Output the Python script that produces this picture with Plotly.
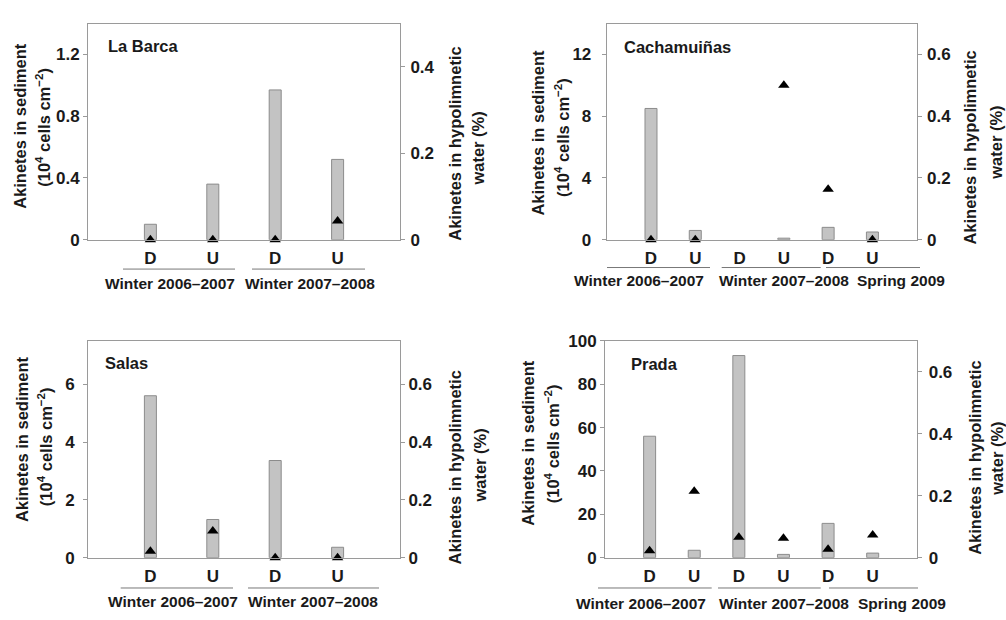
import plotly.graph_objects as go

W, H = 1006, 620

# ---------------- data ----------------
labarca_cats = ["D", "U", "D", "U"]
labarca_sediment = [0.10, 0.36, 0.97, 0.52]
labarca_water = [0.0, 0.0, 0.0, 0.043]

cacha_cats = ["D", "U", "D", "U", "D", "U"]
cacha_sediment = [8.5, 0.6, None, 0.1, 0.8, 0.5]
cacha_water = [0.0, 0.0, None, 0.50, 0.163, 0.0]

salas_cats = ["D", "U", "D", "U"]
salas_sediment = [5.6, 1.32, 3.36, 0.36]
salas_water = [0.022, 0.092, 0.0, 0.0]

prada_cats = ["D", "U", "D", "U", "D", "U"]
prada_sediment = [56.0, 3.4, 93.2, 1.5, 15.8, 2.1]
prada_water = [0.022, 0.214, 0.066, 0.063, 0.027, 0.073]

panels = [
    dict(name="La Barca", cats=labarca_cats, sed=labarca_sediment, wat=labarca_water,
         dom=(88, 400, 15, 238), yr=[0, 1.4], ydt=0.4, y2r=[0, 0.5],
         groups=["Winter 2006–2007", "Winter 2007–2008"]),
    dict(name="Cachamuiñas", cats=cacha_cats, sed=cacha_sediment, wat=cacha_water,
         dom=(606.7, 916.7, 15, 238), yr=[0, 14], ydt=4, y2r=[0, 0.7],
         groups=["Winter 2006–2007", "Winter 2007–2008", "Spring 2009"]),
    dict(name="Salas", cats=salas_cats, sed=salas_sediment, wat=salas_water,
         dom=(88, 400, 342.3, 566), yr=[0, 7.5], ydt=2, y2r=[0, 0.75],
         groups=["Winter 2006–2007", "Winter 2007–2008"]),
    dict(name="Prada", cats=prada_cats, sed=prada_sediment, wat=prada_water,
         dom=(605, 917.3, 342.3, 566), yr=[0, 100], ydt=20, y2r=[0, 0.7],
         groups=["Winter 2006–2007", "Winter 2007–2008", "Spring 2009"]),
]

# label / line placements in pixels (styling)
group_text_x = [[170, 310], [639, 783.5, 900.5], [173, 312.7], [640.5, 784, 901.7]]
group_text_y = [283, 280, 611.7, 613.3]
group_lines = [[(123, 235), (252, 365)],
               [(607, 710), (721.7, 820.7), (826, 920)],
               [(120.7, 233), (248, 379)],
               [(598, 711.7), (718, 820.7), (829, 918)]]
group_line_y = [268.3, 266.7, 597.3, 597.3]
name_pos = [(106, 38.3), (621.7, 38.7), (103.3, 365), (629.3, 366)]
left_title_x = [(20, 43), (538, 562), (22.7, 45), (528, 552)]
left_title_y = [(120.5, 122.5), (127.5, 133), (444, 452), (447.5, 449)]
right_title_x = [(455, 478), (970, 996), (455, 480), (975, 997)]
right_title_y = [(139, 144), (143, 138), (473, 471), (463, 464)]
left_standoff = [0, 7, 5, 0]
right_standoff = [2, 2, 0, 3]

FONT = "Arial, Liberation Sans, Helvetica, sans-serif"
TXT = "#1a1a1a"
GRID = "#9a9a9a"

def px(x):
    return x / W

def py(y):
    return 1 - y / H

def bold(size):
    return dict(family=FONT, size=size, color=TXT, weight="bold")

fig = go.Figure()
layout = dict(
    width=W, height=H, margin=dict(l=0, r=0, t=0, b=0),
    paper_bgcolor="white", plot_bgcolor="white", showlegend=False,
    font=bold(16),
)
annotations = []
shapes = []

for i, p in enumerate(panels):
    n = len(p["cats"])
    xs = list(range(n))
    xa = "x" if i == 0 else f"x{i+1}"
    ya = f"y{2*i+1}" if i > 0 else "y"
    y2a = f"y{2*i+2}"
    xkey = "xaxis" if i == 0 else f"xaxis{i+1}"
    ykey = "yaxis" if i == 0 else f"yaxis{2*i+1}"
    y2key = f"yaxis{2*i+2}"
    x0, x1, yt, yb = p["dom"]
    unit = (x1 - x0) / (n + 1)
    bw = 12.0 / unit

    fig.add_trace(go.Bar(
        x=xs, y=p["sed"], xaxis=xa, yaxis=ya, width=bw,
        marker=dict(color="#c3c3c3", line=dict(color="#8c8c8c", width=1)),
    ))
    fig.add_trace(go.Scatter(
        x=xs, y=p["wat"], xaxis=xa, yaxis=y2a, mode="markers", cliponaxis=False,
        marker=dict(symbol="triangle-up", size=10, color="black"),
    ))

    layout[xkey] = dict(
        domain=[px(x0), px(x1)], range=[-1, n], anchor=ya,
        tickvals=xs, ticktext=p["cats"],
        ticks="", showline=True, linecolor=GRID, linewidth=1, mirror=True,
        showgrid=False, zeroline=False, fixedrange=True,
        tickfont=bold(17), ticklabelstandoff=3,
    )
    layout[ykey] = dict(
        domain=[py(yb), py(yt)], range=p["yr"], dtick=p["ydt"], anchor=xa,
        showline=True, linecolor=GRID, linewidth=1, ticks="outside", ticklen=4,
        tickcolor=GRID, showgrid=False, zeroline=False,
        tickfont=bold(17), ticklabelstandoff=left_standoff[i],
    )
    layout[y2key] = dict(
        range=p["y2r"], dtick=0.2, overlaying=ya, side="right", anchor=xa,
        showline=True, linecolor=GRID, linewidth=1, ticks="outside", ticklen=4,
        tickcolor=GRID, showgrid=False, zeroline=False,
        tickfont=bold(17), ticklabelstandoff=right_standoff[i],
    )

    # panel name
    nx, ny = name_pos[i]
    annotations.append(dict(text=p["name"], x=px(nx), y=py(ny),
                            xref="paper", yref="paper", xanchor="left", yanchor="middle",
                            showarrow=False, font=bold(16.5)))
    # axis titles
    lt = ["Akinetes in sediment", "(10<sup>4</sup> cells cm<sup>−2</sup>)"]
    for k in range(2):
        annotations.append(dict(text=lt[k], x=px(left_title_x[i][k]), y=py(left_title_y[i][k]),
                                xref="paper", yref="paper", xanchor="center", yanchor="middle",
                                textangle=-90, showarrow=False, font=bold(16.5)))
    rt = ["Akinetes in hypolimnetic", "water (%)"]
    for k in range(2):
        annotations.append(dict(text=rt[k], x=px(right_title_x[i][k]), y=py(right_title_y[i][k]),
                                xref="paper", yref="paper", xanchor="center", yanchor="middle",
                                textangle=-90, showarrow=False, font=bold(16.5)))
    # group labels and lines
    for g, label in enumerate(p["groups"]):
        annotations.append(dict(text=label, x=px(group_text_x[i][g]), y=py(group_text_y[i]),
                                xref="paper", yref="paper", xanchor="center", yanchor="middle",
                                showarrow=False, font=bold(15.5)))
        la, lb = group_lines[i][g]
        shapes.append(dict(type="line", xref="paper", yref="paper",
                           x0=px(la), x1=px(lb), y0=py(group_line_y[i]), y1=py(group_line_y[i]),
                           line=dict(color="#777777", width=1)))

layout["annotations"] = annotations
layout["shapes"] = shapes
fig.update_layout(**layout)
fig.write_html("out.html", config={"displayModeBar": False},
               post_script="document.body.style.margin='0px';")
